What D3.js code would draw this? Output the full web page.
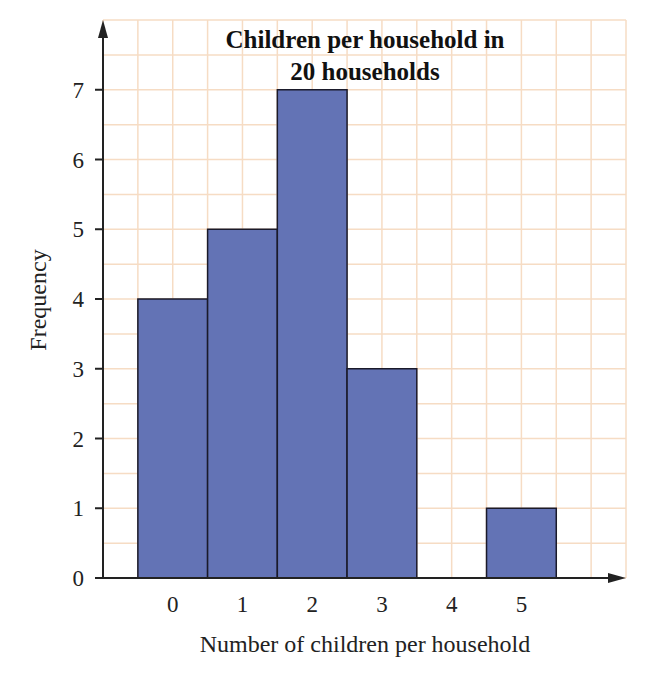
<!DOCTYPE html><html><head><script src="https://cdn.jsdelivr.net/npm/d3@7"></script>
<style>body{margin:0;background:#fff}text{font-family:"Liberation Serif","DejaVu Serif",serif}</style></head><body><svg id="c" width="656" height="678"></svg><script>
const categories=[0,1,2,3,4,5];
const frequencies=[4,5,7,3,0,1];
const yTicks=[0,1,2,3,4,5,6,7];
const svg=d3.select("#c");
const x=d3.scaleLinear().domain([-1,6.5]).range([103,626]);
const y=d3.scaleLinear().domain([0,8]).range([578,20]);
const g=svg.append("g");
for(let v=-1;v<=6.5001;v+=0.5)g.append("line").attr("x1",x(v)).attr("x2",x(v)).attr("y1",y(0)).attr("y2",y(8)).attr("stroke","#f6dcc4").attr("stroke-width",1.5);
for(let v=0;v<=8.0001;v+=0.5)g.append("line").attr("x1",x(-1)).attr("x2",x(6.5)).attr("y1",y(v)).attr("y2",y(v)).attr("stroke","#f6dcc4").attr("stroke-width",1.5);
svg.selectAll("rect.b").data(categories.map((c,i)=>({c,f:frequencies[i]})).filter(d=>d.f>0)).join("rect")
 .attr("x",d=>x(d.c-0.5)).attr("width",x(0.5)-x(-0.5)).attr("y",d=>y(d.f)).attr("height",d=>y(0)-y(d.f))
 .attr("fill","#6373b5").attr("stroke","#1a1a2a").attr("stroke-width",1.5);
const ax=svg.append("g").attr("stroke","#222").attr("stroke-width",2);
ax.append("line").attr("x1",x(-1)).attr("x2",x(-1)).attr("y1",y(0)).attr("y2",30);
ax.append("path").attr("d",`M${x(-1)},20 L${x(-1)-5},38 L${x(-1)+5},38Z`).attr("fill","#222").attr("stroke","none");
ax.append("line").attr("x1",x(-1)).attr("x2",615).attr("y1",y(0)).attr("y2",y(0));
ax.append("path").attr("d",`M626,${y(0)} L608,${y(0)-5} L608,${y(0)+5}Z`).attr("fill","#222").attr("stroke","none");
yTicks.forEach(t=>{ax.append("line").attr("x1",x(-1)-8).attr("x2",x(-1)).attr("y1",y(t)).attr("y2",y(t));
 svg.append("text").attr("x",84).attr("y",y(t)+8).attr("text-anchor","end").attr("font-size",23).attr("fill","#222").text(t);});
categories.forEach(c=>svg.append("text").attr("x",x(c)).attr("y",612).attr("text-anchor","middle").attr("font-size",23).attr("fill","#222").text(c));
svg.append("text").attr("x",365).attr("y",652).attr("text-anchor","middle").attr("font-size",24).attr("fill","#222").text("Number of children per household");
svg.append("text").attr("transform","translate(46,300) rotate(-90)").attr("text-anchor","middle").attr("font-size",24).attr("fill","#222").text("Frequency");
svg.append("text").attr("x",365).attr("y",48).attr("text-anchor","middle").attr("font-size",25).attr("font-weight","bold").attr("fill","#111").text("Children per household in");
svg.append("text").attr("x",365).attr("y",80).attr("text-anchor","middle").attr("font-size",25).attr("font-weight","bold").attr("fill","#111").text("20 households");
</script></body></html>
